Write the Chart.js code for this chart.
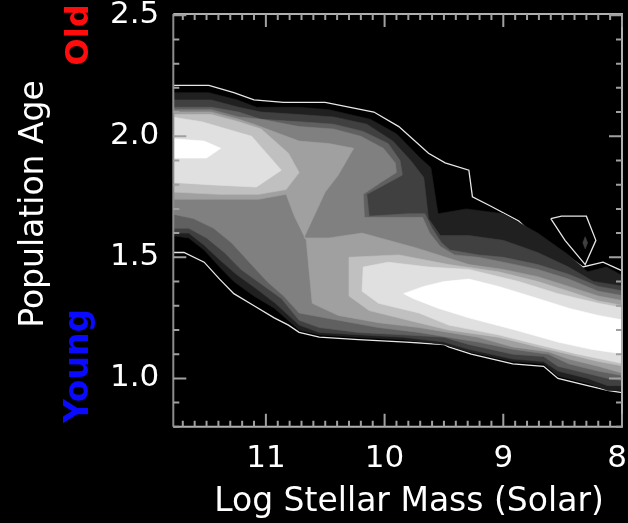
<!DOCTYPE html>
<html>
<head>
<meta charset="utf-8">
<script src="https://cdn.jsdelivr.net/npm/chart.js@4.4.1/dist/chart.umd.min.js"></script>
<style>
  html, body { margin: 0; padding: 0; background: #000; }
  canvas { display: block; }
</style>
</head>
<body>
<canvas id="chart" width="628" height="523"></canvas>
<script>
// Axis ticks and ranges
const X_TICKS = [11, 10, 9, 8];
const Y_TICKS = [1.0, 1.5, 2.0, 2.5];
const X_RANGE = [8.0, 11.78];
const Y_RANGE = [0.8, 2.505];

// Density contours: vertices are [log stellar mass, population age]
const OUTER = [[11.80,2.21],[11.48,2.21],[11.27,2.18],[11.10,2.15],[10.85,2.14],[10.50,2.14],[10.09,2.10],[9.88,2.04],[9.63,1.93],[9.49,1.89],[9.29,1.86],[9.26,1.75],[9.10,1.71],[8.87,1.65],[8.66,1.55],[8.50,1.52],[8.33,1.46],[8.16,1.48],[7.98,1.44],
  [7.98,0.94],[8.12,0.95],[8.29,0.97],[8.54,1.00],[8.66,1.05],[8.92,1.06],[9.27,1.10],[9.46,1.13],[9.50,1.14],[9.82,1.15],[10.22,1.16],[10.55,1.17],[10.72,1.19],[10.81,1.22],[10.93,1.25],[11.10,1.30],[11.27,1.35],[11.39,1.41],[11.52,1.48],[11.69,1.52],[11.80,1.52]];
const ISLAND = [[8.60,1.66],[8.51,1.67],[8.30,1.67],[8.22,1.57],[8.31,1.47],[8.48,1.57]];
const ISLAND_CORE = [[8.31,1.585],[8.29,1.56],[8.31,1.535],[8.33,1.56]];

const LEVEL1 = [[11.80,2.18],[11.48,2.18],[11.24,2.15],[11.08,2.12],[10.72,2.12],[10.47,2.11],[10.12,2.07],[9.90,2.01],[9.70,1.91],[9.61,1.87],[9.55,1.68],[9.31,1.70],[9.00,1.68],[8.71,1.60],[8.45,1.51],[8.29,1.44],[8.13,1.46],[7.98,1.42],
  [7.98,0.95],[8.12,0.95],[8.29,0.98],[8.54,1.01],[8.66,1.06],[8.92,1.07],[9.29,1.11],[9.50,1.14],[9.84,1.16],[10.22,1.17],[10.55,1.18],[10.72,1.20],[10.93,1.29],[11.10,1.34],[11.27,1.40],[11.39,1.46],[11.52,1.53],[11.65,1.58],[11.80,1.59]];

const LEVEL2 = [[11.80,2.15],[11.46,2.15],[11.23,2.12],[11.04,2.10],[10.72,2.09],[10.43,2.08],[10.15,2.05],[9.93,1.98],[9.78,1.90],[9.67,1.83],[9.63,1.66],[9.53,1.59],[9.29,1.59],[9.00,1.57],[8.71,1.52],[8.45,1.46],[8.24,1.40],[7.98,1.38],
  [7.98,0.97],[8.12,0.97],[8.29,1.00],[8.54,1.03],[8.66,1.07],[8.92,1.08],[9.29,1.12],[9.50,1.15],[9.84,1.17],[10.22,1.18],[10.55,1.19],[10.72,1.22],[10.92,1.31],[11.08,1.37],[11.25,1.43],[11.39,1.49],[11.52,1.55],[11.65,1.60],[11.80,1.60]];

const LEVEL3 = [[11.80,2.12],[11.46,2.12],[11.23,2.10],[11.04,2.07],[10.72,2.06],[10.43,2.05],[10.18,2.02],[9.97,1.97],[9.87,1.90],[9.85,1.84],[10.00,1.80],[10.15,1.76],[10.13,1.67],[9.80,1.68],[9.66,1.68],[9.60,1.62],[9.52,1.56],[9.45,1.53],[9.21,1.51],[9.00,1.50],[8.71,1.47],[8.45,1.43],[8.20,1.38],[7.98,1.36],
  [7.98,0.99],[8.12,1.00],[8.29,1.02],[8.54,1.05],[8.66,1.09],[8.92,1.10],[9.29,1.14],[9.50,1.17],[9.84,1.18],[10.22,1.19],[10.55,1.21],[10.72,1.24],[10.87,1.33],[11.04,1.39],[11.21,1.45],[11.35,1.52],[11.50,1.58],[11.65,1.62],[11.80,1.62]];

const LEVEL4 = [[11.80,2.11],[11.46,2.11],[11.23,2.08],[11.04,2.07],[10.72,2.04],[10.43,2.03],[10.20,2.00],[10.01,1.95],[9.91,1.89],[9.90,1.85],[10.03,1.81],[10.18,1.76],[10.17,1.665],[9.80,1.665],[9.68,1.665],[9.62,1.60],[9.53,1.545],[9.41,1.51],[9.21,1.50],[9.00,1.48],[8.71,1.45],[8.45,1.41],[8.20,1.36],[7.98,1.34],
  [7.98,1.01],[8.20,1.03],[8.45,1.06],[8.62,1.10],[8.92,1.12],[9.21,1.15],[9.46,1.17],[9.71,1.19],[10.05,1.21],[10.39,1.24],[10.72,1.27],[10.85,1.34],[10.99,1.40],[11.14,1.48],[11.29,1.56],[11.44,1.62],[11.61,1.66],[11.80,1.68]];

const LEVEL5 = [[11.80,2.10],[11.46,2.10],[11.23,2.07],[11.10,2.05],[10.72,1.98],[10.47,1.97],[10.26,1.95],[10.39,1.84],[10.50,1.77],[10.68,1.58],[10.47,1.58],[10.19,1.60],[9.74,1.54],[9.29,1.47],[9.00,1.45],[8.71,1.42],[8.45,1.38],[8.20,1.34],[7.98,1.32],
  [7.98,1.02],[8.20,1.05],[8.45,1.08],[8.62,1.11],[8.92,1.13],[9.21,1.17],[9.46,1.19],[9.71,1.21],[10.05,1.23],[10.39,1.26],[10.61,1.31],[10.66,1.57],[10.76,1.67],[10.83,1.76],[11.06,1.74],[11.39,1.74],[11.80,1.74]];

const LEVEL6_OLD = [[11.80,2.09],[11.46,2.09],[11.23,2.06],[11.04,2.03],[10.81,1.93],[10.72,1.85],[10.83,1.78],[11.06,1.76],[11.39,1.76],[11.80,1.77]];
const LEVEL6_YOUNG = [[10.30,1.50],[9.88,1.51],[9.46,1.47],[9.04,1.44],[8.71,1.40],[8.45,1.36],[8.20,1.32],[7.98,1.30],
  [7.98,1.05],[8.20,1.07],[8.45,1.10],[8.71,1.13],[9.04,1.17],[9.46,1.20],[9.80,1.24],[10.13,1.28],[10.30,1.34]];

const LEVEL7_OLD = [[11.80,2.08],[11.54,2.06],[11.12,2.00],[10.87,1.86],[11.08,1.79],[11.48,1.80],[11.80,1.81]];
const LEVEL7_YOUNG = [[10.18,1.46],[9.97,1.48],[9.63,1.46],[9.29,1.45],[8.87,1.40],[8.54,1.35],[8.20,1.31],[7.98,1.29],
  [7.98,1.06],[8.37,1.10],[8.71,1.14],[9.04,1.18],[9.46,1.22],[9.71,1.27],[10.05,1.31],[10.19,1.36]];

const LEVEL8_OLD = [[11.80,1.99],[11.52,1.98],[11.38,1.95],[11.50,1.91],[11.80,1.91]];
const LEVEL8_YOUNG = [[9.84,1.35],[9.67,1.38],[9.50,1.40],[9.29,1.41],[9.04,1.38],[8.71,1.33],[8.45,1.29],[8.20,1.26],[7.98,1.24],
  [7.98,1.10],[8.26,1.12],[8.54,1.15],[8.90,1.20],[9.29,1.25],[9.55,1.29],[9.76,1.33]];

// Gray ramp, one shade per contour level
const GRAYS = ['#000000', '#202020', '#404040', '#606060', '#808080', '#a0a0a0', '#c0c0c0', '#e0e0e0', '#ffffff'];

// Drawing order: lowest level first
const LAYERS = [
  { pts: OUTER, shade: 0, edge: true },
  { pts: ISLAND, shade: 0, edge: true },
  { pts: ISLAND_CORE, shade: 2 },
  { pts: LEVEL1, shade: 1 },
  { pts: LEVEL2, shade: 2 },
  { pts: LEVEL3, shade: 3 },
  { pts: LEVEL4, shade: 4 },
  { pts: LEVEL5, shade: 5 },
  { pts: LEVEL6_OLD, shade: 6 },
  { pts: LEVEL6_YOUNG, shade: 6 },
  { pts: LEVEL7_OLD, shade: 7 },
  { pts: LEVEL7_YOUNG, shade: 7 },
  { pts: LEVEL8_OLD, shade: 8 },
  { pts: LEVEL8_YOUNG, shade: 8 },
];

const datasets = LAYERS.map((layer, i) => ({
  type: 'line',
  data: [...layer.pts, layer.pts[0]].map(([x, y]) => ({ x, y })),
  showLine: true,
  fill: 'shape',
  backgroundColor: GRAYS[layer.shade],
  borderColor: layer.edge ? '#e6e6e6' : GRAYS[layer.shade],
  borderWidth: layer.edge ? 1.3 : 0.6,
  pointRadius: 0,
  tension: 0,
  order: LAYERS.length - i,
}));

const FONT = '"DejaVu Sans", sans-serif';

// Frame with inward ticks on all four sides, plus axis titles and age hints
const frame = {
  id: 'frame',
  afterDatasetsDraw(chart) {
    const { ctx, chartArea: a, scales: { x, y } } = chart;
    ctx.save();
    ctx.lineWidth = 2;
    ctx.strokeStyle = '#b0b0b0';
    ctx.beginPath();
    ctx.moveTo(a.left, a.top); ctx.lineTo(a.right, a.top); ctx.lineTo(a.right, a.bottom); ctx.lineTo(a.left, a.bottom);
    ctx.stroke();
    ctx.strokeStyle = '#8c8c8c';
    ctx.beginPath();
    ctx.moveTo(a.left, a.top); ctx.lineTo(a.left, a.bottom);
    ctx.stroke();
    ctx.strokeStyle = '#a0a0a0';
    ctx.beginPath();
    for (let i = 80; i <= 117; i++) {
      const px = x.getPixelForValue(i / 10);
      const len = i % 10 === 0 ? 13 : 6;
      ctx.moveTo(px, a.bottom); ctx.lineTo(px, a.bottom - len);
      ctx.moveTo(px, a.top); ctx.lineTo(px, a.top + len);
    }
    for (let i = 8; i <= 25; i++) {
      const py = y.getPixelForValue(i / 10);
      const len = i % 5 === 0 ? 13 : 6;
      ctx.moveTo(a.left, py); ctx.lineTo(a.left + len, py);
      ctx.moveTo(a.right, py); ctx.lineTo(a.right - len, py);
    }
    ctx.stroke();
    ctx.restore();
  },
  afterDraw(chart) {
    const { ctx } = chart;
    ctx.save();
    ctx.textAlign = 'center';
    ctx.textBaseline = 'alphabetic';
    ctx.fillStyle = '#ffffff';
    ctx.font = '33px ' + FONT;
    ctx.fillText('Log Stellar Mass (Solar)', 409, 511);

    const vertical = (text, cx, cy, font, color) => {
      ctx.save();
      ctx.translate(cx, cy);
      ctx.rotate(-Math.PI / 2);
      ctx.font = font;
      ctx.fillStyle = color;
      ctx.fillText(text, 0, 0);
      ctx.restore();
    };
    vertical('Population Age', 43, 204, '33px ' + FONT, '#ffffff');
    vertical('Old', 88, 35, 'bold 32px ' + FONT, '#ff0d0d');
    vertical('Young', 88, 366, 'bold 33px ' + FONT, '#0a0aff');
    ctx.restore();
  }
};

// Keep the plot edges where the layout padding puts them
const noEdgePadding = (scale) => {
  scale.paddingLeft = 0; scale.paddingRight = 0;
  scale.paddingTop = 0; scale.paddingBottom = 0;
};

new Chart(document.getElementById('chart'), {
  type: 'scatter',
  data: { datasets },
  options: {
    responsive: false,
    animation: false,
    devicePixelRatio: 1,
    events: [],
    layout: { padding: { left: 96, top: 14, right: 6, bottom: 31 } },
    plugins: { legend: { display: false }, tooltip: { enabled: false } },
    scales: {
      x: {
        type: 'linear',
        reverse: true,
        min: X_RANGE[0],
        max: X_RANGE[1],
        grid: { display: false, drawTicks: false },
        border: { display: false },
        afterBuildTicks: (scale) => { scale.ticks = X_TICKS.map(v => ({ value: v })); },
        afterFit: noEdgePadding,
        ticks: {
          color: '#ffffff',
          font: { family: FONT, size: 31 },
          padding: 14,
          maxRotation: 0,
          autoSkip: false,
          // the edge label is nudged inward so it stays on the canvas
          callback: (v) => (v === X_RANGE[0] ? String(v) + ' ' : String(v)),
        },
      },
      y: {
        type: 'linear',
        min: Y_RANGE[0],
        max: Y_RANGE[1],
        grid: { display: false, drawTicks: false },
        border: { display: false },
        afterBuildTicks: (scale) => { scale.ticks = Y_TICKS.map(v => ({ value: v })); },
        afterFit: noEdgePadding,
        ticks: {
          color: '#ffffff',
          font: { family: FONT, size: 31 },
          padding: 14,
          autoSkip: false,
          callback: (v) => Number(v).toFixed(1),
        },
      },
    },
  },
  plugins: [frame],
});
</script>
</body>
</html>
